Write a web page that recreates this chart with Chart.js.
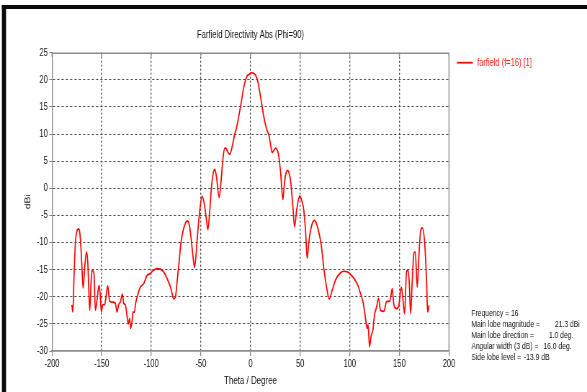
<!DOCTYPE html>
<html>
<head>
<meta charset="utf-8">
<script src="https://cdn.jsdelivr.net/npm/chart.js@4.4.1/dist/chart.umd.min.js"></script>
<style>
  html, body { margin: 0; padding: 0; background: #fff; overflow: hidden; }
  #wrap { width: 587px; height: 392px; overflow: hidden; }
  /* the plot is laid out on a wider canvas and narrowed horizontally */
  #c { display: block; width: 815px; height: 392px; transform: scaleX(0.72025); transform-origin: 0 0; }
</style>
</head>
<body>
<div id="wrap"><canvas id="c" width="815" height="392"></canvas></div>
<script>
// Farfield cut, Phi = 90: directivity (dBi) against theta (degrees)
const thetaDeg = [
  -180, -179, -177.8, -176.4, -175, -173.1, -172, -171, -170, -168.7,
  -167, -165.3, -164, -163, -162, -160.6, -159.6, -158.5, -157.6, -156.3,
  -154.6, -152.6, -151.5, -150.3, -148.9, -146.9, -145.2, -143.9, -141.9, -139,
  -136.2, -134.5, -132.8, -131.2, -129.1, -127.8, -126.1, -124.5, -123.1, -121.8,
  -120.8, -119.4, -118.4, -117.1, -115.7, -113.7, -111, -107.7, -104.4, -101,
  -97.7, -94.3, -90.8, -87.5, -84.1, -80.7, -78.5, -77.4, -75.6, -74,
  -72.3, -70, -67.3, -63.9, -61.6, -60, -58, -56.4, -55, -53.8,
  -51.1, -48.8, -46.4, -44.3, -43, -41, -39.3, -37.6, -35.9, -34.3,
  -31.6, -29.6, -27.6, -25.8, -24.5, -22.5, -20.8, -18.5, -16.1, -14.2,
  -11.9, -9.5, -6.7, -4, -1.5, 1, 3.5, 5.5, 7.4, 10.1,
  12.8, 15.1, 17, 18.5, 20, 21.8, 23.5, 25.5, 27, 28.6,
  30.5, 32.6, 34, 35.3, 37.2, 38.5, 40.3, 42.5, 44.4, 46.5,
  49.6, 51.5, 53.8, 55.5, 57.1, 58.5, 59.8, 62, 64.5, 66,
  67.9, 71.3, 73.9, 76.6, 79.3, 82.3, 85.6, 90, 94.1, 97.4,
  100.8, 104.8, 108.2, 110.8, 113.6, 115.9, 117.6, 118.5, 119.9, 121.6,
  123.3, 124.9, 127, 129, 131, 134.4, 137.1, 140.4, 142.8, 144.5,
  147.1, 149.5, 151.9, 153.2, 155.2, 157.2, 158.6, 159.9, 161.3, 162.9,
  164.6, 166, 168, 169.7, 171.3, 173, 175.4, 177.4, 178.4, 180
];
const directivityDbi = [
  -21.5, -22.8, -16, -9.9, -8, -7.5, -8.2, -10.5, -14, -18.4,
  -14.5, -11.7, -13.6, -18.5, -22.5, -17.2, -15.1, -15.3, -16, -22.5,
  -20.5, -17.9, -19.5, -22.8, -21.5, -21.4, -19.5, -18, -20.8, -21,
  -21.2, -22.8, -21.4, -21, -19.5, -21.2, -21.5, -23.4, -25, -24,
  -25.85, -24.6, -22.8, -22.9, -21.2, -19.7, -18.2, -17.6, -16.1, -15.7,
  -15.1, -14.8, -14.9, -15.4, -16.6, -18.2, -19.8, -20.4, -20, -17.25,
  -14.2, -9.9, -7.4, -6, -6.8, -9, -12.5, -14.6, -12.5, -9.6,
  -4, -1.5, -3.1, -5.9, -7.6, -4, 0.3, 2.75, 3.5, 2.1,
  -1.7, 1.5, 5.8, 7.4, 7.3, 6.55, 6.3, 7.7, 9.8, 11.05,
  13.2, 15.66, 18.7, 20.5, 21, 21.3, 21.15, 20.7, 19.65, 16.9,
  13.8, 11.7, 10.5, 9.8, 8.3, 6.6, 7, 7.4, 7, 5.8,
  2.5, -2.1, 0.5, 2.4, 3.3, 3, 1.5, -3, -7.1, -4,
  -1.4, -2.2, -4.2, -8, -12.9, -10.5, -8.5, -6.6, -5.9, -6.3,
  -7.4, -10.5, -14.8, -18.2, -20.4, -18.8, -16.9, -15.7, -15.3, -15.4,
  -15.9, -16.75, -17.9, -19.4, -21.2, -24, -25.85, -25.2, -29.2, -27.1,
  -26.2, -23.4, -21.9, -20.3, -22.5, -22.7, -20.9, -20.8, -18.5, -21.55,
  -22.2, -21.55, -18.2, -19.7, -23.1, -15.4, -15.1, -17.25, -23.1, -17.25,
  -12, -11.7, -18.2, -12.3, -8, -7.3, -9.9, -17.25, -22.8, -21.55
];

const xRange = [-200, 200];
const yRange = [-30, 25];
const xStep = 50;
const yStep = 5;

const chartTitle = 'Farfield Directivity Abs (Phi=90)';
const seriesName = 'farfield (f=16) [1]';
const xAxisTitle = 'Theta / Degree';
const yAxisTitle = 'dBi';
const statLabels = ['Frequency = 16', 'Main lobe magnitude =', 'Main lobe direction =', 'Angular width (3 dB) =', 'Side lobe level ='];
const statValues = ['', '21.3 dBi', '1.0 deg.', '16.0 deg.', '-13.9 dB'];

const FONT = "'Liberation Sans', Arial, sans-serif";
const RED = '#ff0000';
const GRID = '#4a4a4a';
const AXIS = '#8c8c8c';
const INK = '#111';

const points = thetaDeg.map((t, i) => ({ x: t, y: directivityDbi[i] }));

// frame, heading, legend entry and the lobe summary
const decor = {
  id: 'decor',
  afterDraw(chart) {
    const ctx = chart.ctx;
    const a = chart.chartArea;
    const xs = chart.scales.x;
    ctx.save();

    // window frame
    ctx.fillStyle = '#0a0a0a';
    ctx.fillRect(2.6, 5, chart.width, 4);
    ctx.fillRect(2.6, 5, 5.8, chart.height);

    // top and right edges of the plot box
    ctx.strokeStyle = AXIS;
    ctx.lineWidth = 1.4;
    ctx.beginPath();
    ctx.moveTo(a.left, a.top + 0.5);
    ctx.lineTo(a.right, a.top + 0.5);
    ctx.moveTo(a.right, a.top);
    ctx.lineTo(a.right, a.bottom);
    ctx.stroke();
    // small ticks hanging from the top edge
    ctx.lineWidth = 1.3;
    ctx.beginPath();
    for (const t of xs.ticks) {
      const px = xs.getPixelForValue(t.value);
      ctx.moveTo(px, a.top);
      ctx.lineTo(px, a.top + 4);
    }
    ctx.stroke();

    // heading
    ctx.fillStyle = INK;
    ctx.font = '10.6px ' + FONT;
    ctx.textAlign = 'center';
    ctx.textBaseline = 'middle';
    ctx.fillText(chartTitle, (a.left + a.right) / 2, 35);

    // legend entry
    const lx = a.right + 11;
    ctx.strokeStyle = RED;
    ctx.lineWidth = 1.7;
    ctx.beginPath();
    ctx.moveTo(lx, 62.7);
    ctx.lineTo(lx + 22, 62.7);
    ctx.stroke();
    ctx.fillStyle = '#ff2020';
    ctx.font = '10.4px ' + FONT;
    ctx.textAlign = 'left';
    ctx.fillText(seriesName, lx + 28, 62.7);

    // lobe summary
    ctx.fillStyle = INK;
    ctx.font = '9.4px ' + FONT;
    const sx = a.right + 31;
    const gaps = [0, 21, 21, 7, 4];
    statLabels.forEach((label, i) => {
      const y = 313.3 + i * 11.1;
      ctx.fillText(label, sx, y);
      if (statValues[i]) {
        const w = ctx.measureText(label).width;
        ctx.fillText(statValues[i], sx + w + gaps[i], y);
      }
    });
    ctx.restore();
  }
};

new Chart(document.getElementById('c'), {
  type: 'line',
  data: {
    datasets: [{
      label: seriesName,
      data: points,
      borderColor: RED,
      borderWidth: 1.7,
      pointRadius: 0,
      fill: false,
      cubicInterpolationMode: 'monotone'
    }]
  },
  options: {
    responsive: false,
    animation: false,
    devicePixelRatio: 1,
    layout: { padding: { left: 8.4, right: 191.6, top: 52.7, bottom: 0 } },
    plugins: { legend: { display: false }, title: { display: false }, tooltip: { enabled: false } },
    scales: {
      x: {
        type: 'linear',
        min: xRange[0],
        max: xRange[1],
        afterFit(s) { s.height = 41; },
        ticks: { stepSize: xStep, color: INK, padding: 2, maxRotation: 0, font: { family: FONT, size: 10.4 } },
        grid: {
          color: c => (c.tick && (c.tick.value === xRange[0] || c.tick.value === xRange[1])) ? 'rgba(0,0,0,0)' : GRID,
          lineWidth: 1.3,
          tickLength: 5,
          tickColor: AXIS,
          tickWidth: 1.3
        },
        border: { display: true, color: AXIS, width: 1.8, dash: [2, 2] },
        title: { display: true, text: xAxisTitle, color: INK, font: { family: FONT, size: 11 }, padding: { top: 0, bottom: 4.5 } }
      },
      y: {
        type: 'linear',
        min: yRange[0],
        max: yRange[1],
        afterFit(s) { s.width = 63.8; },
        ticks: { stepSize: yStep, color: INK, padding: 2, font: { family: FONT, size: 10.4 } },
        grid: {
          color: c => (c.tick && (c.tick.value === yRange[0] || c.tick.value === yRange[1])) ? 'rgba(0,0,0,0)' : GRID,
          lineWidth: 1,
          tickLength: 4,
          tickColor: AXIS,
          tickWidth: 1
        },
        border: { display: true, color: AXIS, width: 1.4, dash: [3, 3] },
        title: { display: true, text: yAxisTitle, color: INK, font: { family: FONT, size: 10.4 }, padding: { top: 24.8, bottom: 0 } }
      }
    }
  },
  plugins: [decor]
});
</script>
</body>
</html>
